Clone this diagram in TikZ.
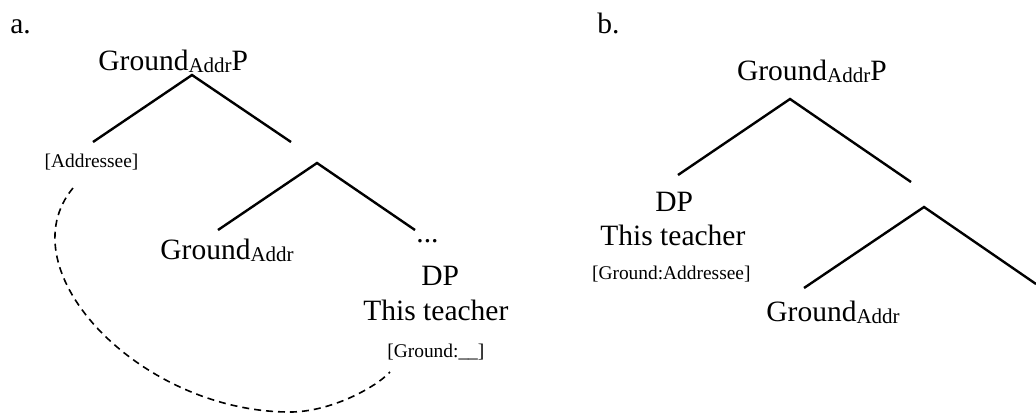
\documentclass[tikz,border=0pt]{standalone}
\usepackage{fontspec}
\setmainfont{Liberation Serif}
\tikzset{
  branch/.style={line width=1.2pt},
  cat/.style={font=\fontsize{14.75}{17}\selectfont, inner sep=0pt, anchor=base west},
  feat/.style={font=\fontsize{9.7}{11}\selectfont, inner sep=0pt, anchor=base west},
  bind/.style={line width=0.8pt, dash pattern=on 3.5pt off 2.5pt},
}
% small, barely lowered index on category labels
\newcommand{\addrsub}{\raisebox{-1pt}{\fontsize{10.5}{12}\selectfont Addr}}

\begin{document}
\begin{tikzpicture}[x=0.5pt, y=-0.5pt]
            \useasboundingbox (0,0) rectangle (1036,414);
            % (a) Ground phrase with unvalued feature
            \node[cat]  (a-label)   at ( 10.0,  33.0) {a.};
            \node[cat]  (a-root)    at ( 98.0,  70.5) {Ground\addrsub P};
            \node[feat] (a-addr)    at ( 44.3, 167.5) {[Addressee]};
            \node[cat]  (a-head)    at (160.0, 259.3) {Ground\addrsub};
            \node[cat]  (a-dots)    at (416.0, 242.0) {...};
            \node[cat]  (a-dp)      at (421.0, 285.0) {DP};
            \node[cat]  (a-teacher) at (363.0, 320.0) {This teacher};
            \node[feat] (a-feat)    at (387.0, 357.3) {[Ground:\_\_]};
            \coordinate (a-top)     at (192, 75);
            \coordinate (a-spec)    at ( 93, 142);
            \coordinate (a-bar)     at (291, 142);
            \coordinate (a-mid)     at (317, 163);
            \coordinate (a-headend) at (218, 230);
            \coordinate (a-compend) at (415, 230);
            \draw[branch] (a-spec) -- (a-top) -- (a-bar);
            \draw[branch] (a-headend) -- (a-mid) -- (a-compend);
            % Binding from the addressee to the open slot
            \coordinate (bind-start) at ( 73, 188);
            \coordinate (bind-low)   at (290, 412);
            \coordinate (bind-end)   at (390, 372);
            \draw[bind] (bind-start) .. controls (  5, 270) and (140, 412) .. (bind-low)
                                     .. controls (330, 412) and (375, 388) .. (bind-end);
            % (b) DP in the specifier, feature valued
            \node[cat]  (b-label)   at (597.0,  33.0) {b.};
            \node[cat]  (b-root)    at (736.7,  80.0) {Ground\addrsub P};
            \node[cat]  (b-dp)      at (655.0, 211.7) {DP};
            \node[cat]  (b-teacher) at (600.0, 245.0) {This teacher};
            \node[feat] (b-feat)    at (591.7, 279.3) {[Ground:Addressee]};
            \node[cat]  (b-head)    at (766.0, 321.7) {Ground\addrsub};
            \coordinate (b-top)     at (790,  99);
            \coordinate (b-spec)    at (678, 175);
            \coordinate (b-bar)     at (911, 182);
            \coordinate (b-mid)     at (924, 207);
            \coordinate (b-headend) at (804, 288);
            \coordinate (b-compend) at (1036, 284);
            \draw[branch] (b-spec) -- (b-top) -- (b-bar);
            \draw[branch] (b-headend) -- (b-mid) -- (b-compend);
        \end{tikzpicture}
\end{document}
